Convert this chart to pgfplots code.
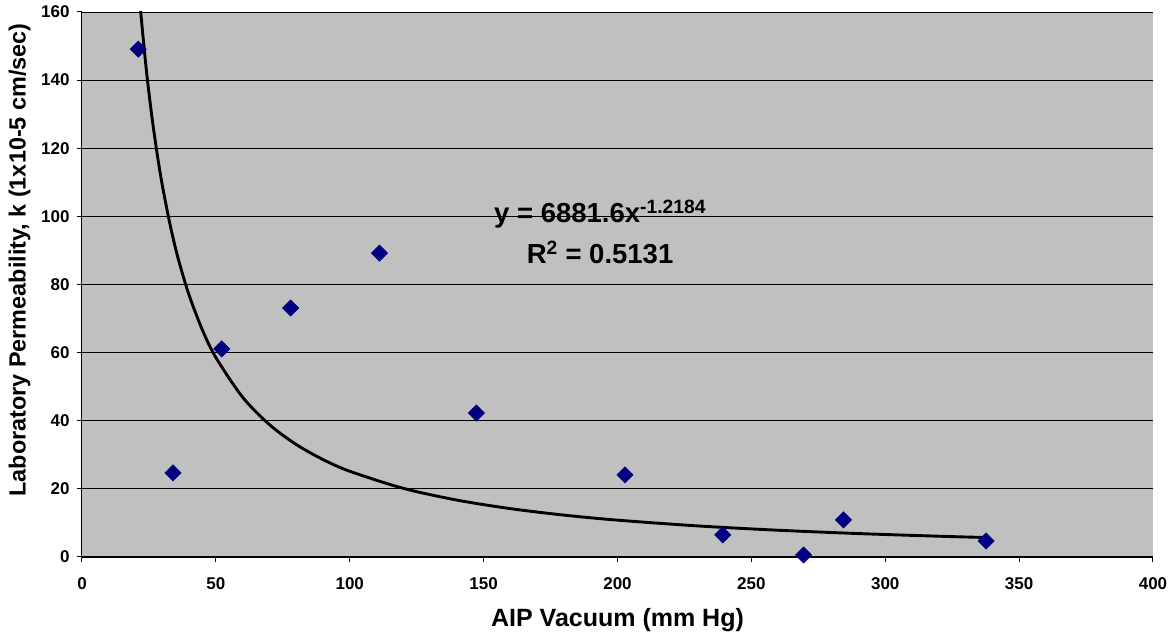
\documentclass[border=0pt]{standalone}
\usepackage{fontspec}
\setmainfont{Liberation Sans}
\usepackage{pgfplots}
\pgfplotsset{compat=1.18}
\definecolor{plotbg}{RGB}{192,192,192}
\definecolor{navymark}{RGB}{0,0,128}
\begin{document}
\begin{tikzpicture}
\useasboundingbox (-82pt,-82pt) rectangle (1093pt,557pt);
\begin{axis}[
  at={(0pt,0pt)}, anchor=south west,
  scale only axis, width=1071pt, height=545pt,
  xmin=0, xmax=400, ymin=0, ymax=160,
  xtick={0,50,...,400}, ytick={0,20,...,160},
  axis background/.style={fill=plotbg},
  axis lines=left, axis line style={-, black, line width=1pt},
  tick align=outside, major tick length=5pt,
  tick style={black, line width=1pt},
  ymajorgrids, grid style={black, line width=0.8pt},
  ticklabel style={font=\fontsize{17}{20}\selectfont\bfseries},
  /pgf/number format/assume math mode=true,
  xticklabel style={yshift=-12pt},
  yticklabel style={xshift=-4pt},
  xlabel={AIP Vacuum (mm Hg)},
  ylabel={Laboratory Permeability, k (1x10-5 cm/sec)},
  xlabel style={font=\fontsize{25}{28}\selectfont\bfseries, at={(axis description cs:0.5,-0.1156)}, anchor=center},
  ylabel style={font=\fontsize{23.4}{26}\selectfont\bfseries, at={(axis description cs:-0.0584,0.545)}, anchor=center},
  clip=true,
]
\addplot[only marks, mark=square*, mark size=5.8pt, mark options={rotate=45, fill=navymark, draw=navymark}]
coordinates {
(21,149.1) (34,24.7) (52.2,61.1) (77.9,73.1) (111.1,89.2) (147.3,42.3)
(202.8,24.1) (239.3,6.5) (269.5,0.6) (284.4,10.9) (337.7,4.7)
};
\addplot[black, line width=2.9pt, smooth, mark=none]
coordinates {
(21.95,160) (22,159.3) (24,143.2) (26,129.9) (28,118.7) (30,109.1) (33,97.18)
(36,87.39) (40,76.87) (45,66.59) (50,58.56) (60,46.90) (70,38.87) (80,33.03)
(90,28.62) (100,25.17) (120,20.16) (140,16.71) (160,14.20) (180,12.30)
(200,10.82) (230,9.123) (260,7.857) (290,6.878) (320,6.101) (338,5.708)
};
\node[font=\fontsize{27.5}{30}\selectfont\bfseries, anchor=center] at (axis cs:193.5,100.6) {y = 6881.6x\textsuperscript{-1.2184}};
\node[font=\fontsize{27.5}{30}\selectfont\bfseries, anchor=center] at (axis cs:193.5,89.3) {R\textsuperscript{2} = 0.5131};
\end{axis}
\end{tikzpicture}
\end{document}
